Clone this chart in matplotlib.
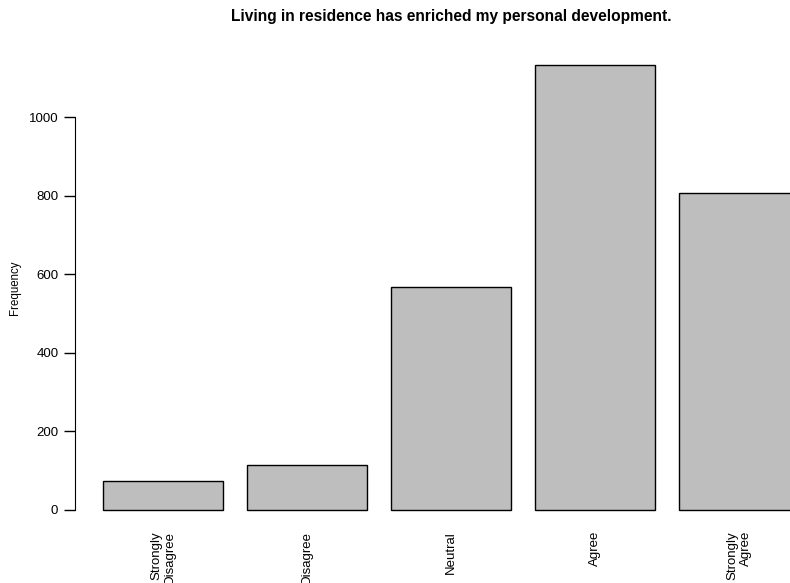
import matplotlib
matplotlib.use('Agg')
import matplotlib.pyplot as plt

# Survey responses
categories = ['Strongly\nDisagree', 'Disagree', 'Neutral', 'Agree', 'Strongly\nAgree']
counts = [73, 115, 567, 1132, 807]
yticks = [0, 200, 400, 600, 800, 1000]

plt.rcParams['font.family'] = ['Liberation Sans', 'DejaVu Sans']

fig = plt.figure(figsize=(7.9, 5.83), dpi=100)
# axes covering the full width, R style barplot layout (width 1, space 0.2)
ax = fig.add_axes([0, 53 / 583, 1, 490 / 583])
ax.set_xlim(-79 / 120, 711 / 120)
ax.set_ylim(-20 / 0.393, 470 / 0.393)

lefts = [0.2 + 1.2 * i for i in range(len(counts))]
ax.bar(lefts, counts, width=1, align='edge', color='#bebebe',
       edgecolor='black', linewidth=1)

for s in ['top', 'right', 'bottom']:
    ax.spines[s].set_visible(False)
ax.spines['left'].set_position(('data', -4 / 120))
ax.spines['left'].set_bounds(0, 1000)
ax.set_yticks(yticks)
ax.tick_params(axis='y', length=8, width=1, labelsize=9.5, pad=4)
ax.set_xticks([])

for x, lab in zip(lefts, categories):
    ax.text(x + 0.5, -21 / 0.393, lab, rotation=90, ha='center', va='top',
            multialignment='right', fontsize=9.5)

fig.text(15 / 790, 1 - 288 / 583, 'Frequency', rotation=90, ha='center',
         va='center', fontsize=8.3)
fig.text(451 / 790, 1 - 16 / 583, 'Living in residence has enriched my personal development.',
         ha='center', va='center', fontsize=11.2, fontweight='bold')

fig.savefig('out.png', dpi=100)
